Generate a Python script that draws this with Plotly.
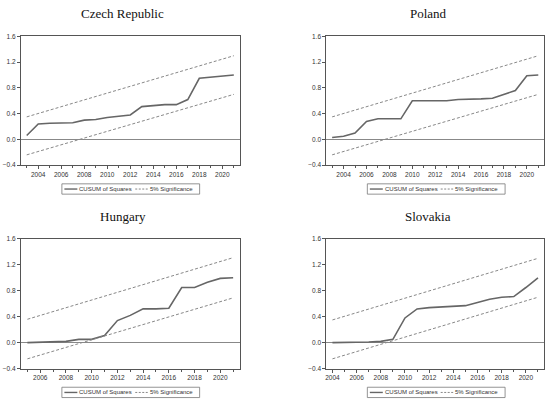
import plotly.graph_objects as go

# CUSUM of squares tests
countries = ["Czech Republic", "Poland", "Hungary", "Slovakia"]

years_cz = list(range(2003, 2022))
cusum_cz = [0.06, 0.24, 0.25, 0.25, 0.26, 0.30, 0.31, 0.34, 0.36, 0.38,
            0.51, 0.53, 0.54, 0.54, 0.62, 0.95, 0.97, 0.99, 1.00]

years_pl = list(range(2003, 2022))
cusum_pl = [0.03, 0.05, 0.10, 0.28, 0.32, 0.32, 0.32, 0.60, 0.60, 0.60,
            0.60, 0.62, 0.62, 0.63, 0.64, 0.70, 0.76, 0.99, 1.00]

years_hu = list(range(2005, 2022))
cusum_hu = [0.00, 0.01, 0.02, 0.02, 0.05, 0.05, 0.11, 0.34, 0.42, 0.52,
            0.52, 0.53, 0.85, 0.85, 0.93, 0.99, 1.00]

years_sk = list(range(2004, 2022))
cusum_sk = [0.00, 0.00, 0.00, 0.01, 0.02, 0.05, 0.38, 0.52, 0.54, 0.55,
            0.56, 0.57, 0.62, 0.67, 0.70, 0.71, 0.85, 1.00]

# 5% significance bounds (straight lines, first and last observation)
upper_cz = [0.35, 1.30]
lower_cz = [-0.24, 0.70]
upper_pl = [0.35, 1.30]
lower_pl = [-0.24, 0.70]
upper_hu = [0.36, 1.31]
lower_hu = [-0.25, 0.69]
upper_sk = [0.35, 1.30]
lower_sk = [-0.25, 0.70]

series = [
    (years_cz, cusum_cz, upper_cz, lower_cz),
    (years_pl, cusum_pl, upper_pl, lower_pl),
    (years_hu, cusum_hu, upper_hu, lower_hu),
    (years_sk, cusum_sk, upper_sk, lower_sk),
]

W, H = 550, 404
# plot areas in pixels: (left, right, top, bottom)
boxes = [(20, 239, 33, 164), (326, 544, 33, 164),
         (20, 239, 239, 371), (326, 544, 239, 371)]

def px(x):
    return x / W

def py(y):
    return 1 - y / H

LINE = "#666666"
DASH = "#888888"
FRAME = "#555555"
TICKFONT = dict(family="Liberation Sans", size=6.5, color="#333333")
LEGFONT = dict(family="Liberation Sans", size=6, color="#333333")

fig = go.Figure()
shapes = []
annotations = []

for i, (name, (yrs, cs, up, lo), (l, r, t, b)) in enumerate(zip(countries, series, boxes)):
    n = "" if i == 0 else str(i + 1)
    xa, ya = "x" + n, "y" + n
    ends = [yrs[0], yrs[-1]]
    fig.add_trace(go.Scatter(x=yrs, y=cs, mode="lines", name="CUSUM of Squares",
                             line=dict(color=LINE, width=1.6), xaxis=xa, yaxis=ya,
                             showlegend=False))
    fig.add_trace(go.Scatter(x=ends, y=up, mode="lines", name="5% Significance",
                             line=dict(color=DASH, width=1, dash="3px,2px"),
                             xaxis=xa, yaxis=ya, showlegend=False))
    fig.add_trace(go.Scatter(x=ends, y=lo, mode="lines", name="5% Significance",
                             line=dict(color=DASH, width=1, dash="3px,2px"),
                             xaxis=xa, yaxis=ya, showlegend=False))

    first_tick = yrs[0] + 1 if yrs[0] % 2 == 1 else yrs[0]
    fig.update_layout(**{
        "xaxis" + n: dict(domain=[px(l), px(r)], anchor=ya,
                          range=[yrs[0] - 0.5, yrs[-1] + 0.5],
                          tickmode="linear", tick0=first_tick, dtick=2,
                          ticks="outside", ticklen=3, tickcolor=FRAME,
                          minor=dict(dtick=1, ticks="outside", ticklen=2, tickcolor=FRAME),
                          showline=True, mirror=True, linecolor=FRAME, linewidth=1,
                          showgrid=False, zeroline=False, tickfont=TICKFONT),
        "yaxis" + n: dict(domain=[py(b), py(t)], anchor=xa,
                          range=[-0.4, 1.6], tickmode="linear", tick0=-0.4, dtick=0.4,
                          tickformat=".1f", ticks="outside", ticklen=3, tickcolor=FRAME,
                          showline=True, mirror=True, linecolor=FRAME, linewidth=1,
                          showgrid=False, zeroline=True, zerolinecolor="#888888",
                          zerolinewidth=1, tickfont=TICKFONT),
    })

    # panel title
    annotations.append(dict(text=name, x=px(l + 102), y=py(t - 23),
                            xref="paper", yref="paper", showarrow=False,
                            xanchor="center", yanchor="middle",
                            font=dict(family="Liberation Serif", size=13, color="#111111")))

    # legend box below each panel
    lx, ly = l + 41, b + 19
    shapes.append(dict(type="rect", xref="paper", yref="paper",
                       x0=px(lx), x1=px(lx + 138), y0=py(ly), y1=py(ly + 10.5),
                       line=dict(color="#777777", width=0.8)))
    mid = ly + 5.3
    shapes.append(dict(type="line", xref="paper", yref="paper",
                       x0=px(lx + 2.5), x1=px(lx + 15.5), y0=py(mid), y1=py(mid),
                       line=dict(color=LINE, width=1.4)))
    shapes.append(dict(type="line", xref="paper", yref="paper",
                       x0=px(lx + 73.5), x1=px(lx + 86), y0=py(mid), y1=py(mid),
                       line=dict(color=DASH, width=1, dash="2px,1.5px")))
    annotations.append(dict(text="CUSUM of Squares", x=px(lx + 15.5), y=py(mid),
                            xref="paper", yref="paper", showarrow=False,
                            xanchor="left", yanchor="middle", font=LEGFONT))
    annotations.append(dict(text="5% Significance", x=px(lx + 86), y=py(mid),
                            xref="paper", yref="paper", showarrow=False,
                            xanchor="left", yanchor="middle", font=LEGFONT))

fig.update_layout(
    width=W, height=H,
    margin=dict(l=0, r=0, t=0, b=0),
    paper_bgcolor="white", plot_bgcolor="white",
    shapes=shapes, annotations=annotations,
    showlegend=False,
)

# drop the browser's default body margin so the 550x404 figure fills the window
fig.write_html("out.html", config={"displayModeBar": False},
               post_script="document.body.style.margin = '0';")
